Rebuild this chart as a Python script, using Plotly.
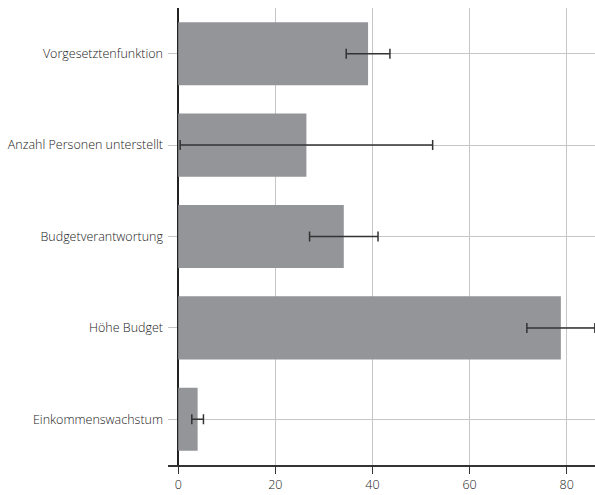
import plotly.graph_objects as go

categories = ["Vorgesetztenfunktion", "Anzahl Personen unterstellt", "Budgetverantwortung",
              "Höhe Budget", "Einkommenswachstum"]
values = [39.1, 26.4, 34.1, 78.8, 4.0]
errors = [4.5, 26.0, 7.05, 7.0, 1.2]
tick_vals = [0, 20, 40, 60, 80]

fig = go.Figure()
fig.add_trace(go.Bar(
    y=categories, x=values, orientation="h",
    marker=dict(color="#939598", line=dict(width=0)),
    width=0.69,
    error_x=dict(type="data", array=errors, visible=True, color="#333333",
                 thickness=1.5, width=5),
))

fig.update_layout(
    width=595, height=495,
    margin=dict(l=168, r=0, t=8, b=30, pad=0),
    paper_bgcolor="white", plot_bgcolor="white",
    showlegend=False,
    font=dict(family="Open Sans", size=12.5, color="#1a1a1a", weight=300),
    xaxis=dict(
        range=[-2.1, 85.83], tickvals=tick_vals,
        showgrid=True, gridcolor="#c6c6c6", gridwidth=1,
        zeroline=True, zerolinecolor="#222222", zerolinewidth=1.5,
        showline=True, linecolor="#333333", linewidth=1.5,
        ticks="outside", ticklen=7, tickcolor="#333333", tickwidth=1,
        tickfont=dict(size=12.5, color="#1a1a1a", weight=300),
    ),
    yaxis=dict(
        autorange="reversed",
        showgrid=True, gridcolor="#c6c6c6", gridwidth=1,
        showline=False, zeroline=False, ticks="",
        tickfont=dict(size=12.5, color="#1a1a1a", weight=300),
        ticklabelstandoff=4,
    ),
)

fig.write_html(
    "out.html",
    config={"displayModeBar": False},
    post_script="document.body.style.margin='0';document.body.style.padding='0';"
                "document.body.style.overflow='hidden';",
)
